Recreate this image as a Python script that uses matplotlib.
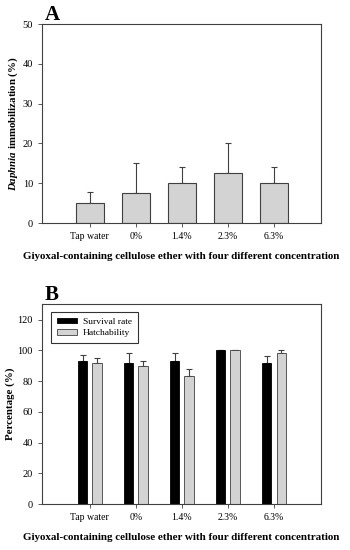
import matplotlib
matplotlib.use("Agg")
import matplotlib.pyplot as plt
import numpy as np

plt.rcParams['font.family'] = ['Liberation Serif', 'DejaVu Serif']
plt.rcParams['mathtext.fontset'] = 'custom'
plt.rcParams['mathtext.rm'] = 'Liberation Serif'
plt.rcParams['mathtext.it'] = 'Liberation Serif:italic'
plt.rcParams['mathtext.bf'] = 'Liberation Serif:bold'
plt.rcParams['mathtext.bfit'] = 'Liberation Serif:bold:italic'

categories = ["Tap water", "0%", "1.4%", "2.3%", "6.3%"]

# Panel A
immob = [5.0, 7.5, 10.0, 12.5, 10.0]
immob_err = [2.8, 7.5, 4.0, 7.5, 4.0]

# Panel B
survival = [93.3, 91.7, 93.3, 100.0, 91.7]
survival_err = [3.8, 6.3, 4.7, 0.0, 4.8]
hatch = [91.7, 90.0, 83.3, 100.0, 98.3]
hatch_err = [3.3, 3.3, 4.2, 0.0, 1.7]

xlabel = "Giyoxal-containing cellulose ether with four different concentration"

fig = plt.figure(figsize=(3.5, 5.5), dpi=100)
axA = fig.add_axes([0.12, 0.5945, 0.797, 0.3615])
axB = fig.add_axes([0.12, 0.0836, 0.797, 0.3634])

x = np.arange(len(categories))
grey = "#d3d3d3"
edge = "#404040"

axA.bar(x, immob, width=0.6, color=grey, edgecolor=edge, linewidth=0.8, zorder=2)
axA.errorbar(x, immob, yerr=[np.zeros(len(x)), immob_err], fmt='none',
             ecolor=edge, elinewidth=0.8, capsize=2.5, capthick=0.8, zorder=1)
axA.set_ylim(0, 50)
axA.set_yticks([0, 10, 20, 30, 40, 50])
axA.set_xlim(-1.04, 5.02)
axA.set_xticks(x)
axA.set_xticklabels(categories)
axA.set_ylabel(r"$\mathbfit{Daphnia}$ immobilization (%)", fontsize=7.8, fontweight='bold', labelpad=2)
axA.set_xlabel(xlabel, fontsize=7.9, fontweight='bold', labelpad=8)
axA.text(0.01, 1.02, "A", transform=axA.transAxes, fontsize=15, fontweight='bold', ha='left', va='baseline')

w = 0.2
off = 0.155
axB.bar(x - off, survival, width=w, color='black', edgecolor='black', linewidth=0.6, label="Survival rate", zorder=2)
axB.bar(x + off, hatch, width=w, color=grey, edgecolor=edge, linewidth=0.6, label="Hatchability", zorder=2)
axB.errorbar(x - off, survival, yerr=[np.zeros(len(x)), survival_err], fmt='none',
             ecolor=edge, elinewidth=0.8, capsize=2.0, capthick=0.8, zorder=1)
axB.errorbar(x + off, hatch, yerr=[np.zeros(len(x)), hatch_err], fmt='none',
             ecolor=edge, elinewidth=0.8, capsize=2.0, capthick=0.8, zorder=1)
axB.set_ylim(0, 130)
axB.set_yticks([0, 20, 40, 60, 80, 100, 120])
axB.set_xlim(-1.04, 5.02)
axB.set_xticks(x)
axB.set_xticklabels(categories)
axB.set_ylabel("Percentage (%)", fontsize=7.8, fontweight='bold', labelpad=2)
axB.set_xlabel(xlabel, fontsize=7.9, fontweight='bold', labelpad=8)
axB.text(0.01, 1.02, "B", transform=axB.transAxes, fontsize=15, fontweight='bold', ha='left', va='baseline')
leg = axB.legend(loc='upper left', fontsize=6.8, frameon=True, fancybox=False,
                 edgecolor='black', handlelength=2.2, handleheight=0.55,
                 borderpad=0.6, labelspacing=0.35, handletextpad=0.6,
                 bbox_to_anchor=(0.015, 0.985))
leg.get_frame().set_linewidth(0.8)

for ax in (axA, axB):
    ax.tick_params(axis='both', labelsize=7, direction='out', length=3, width=0.6, color=edge)
    ax.tick_params(axis='y', labelsize=7.5)
    for s in ax.spines.values():
        s.set_linewidth(0.8)
        s.set_color(edge)

fig.savefig("out.png", dpi=100)
